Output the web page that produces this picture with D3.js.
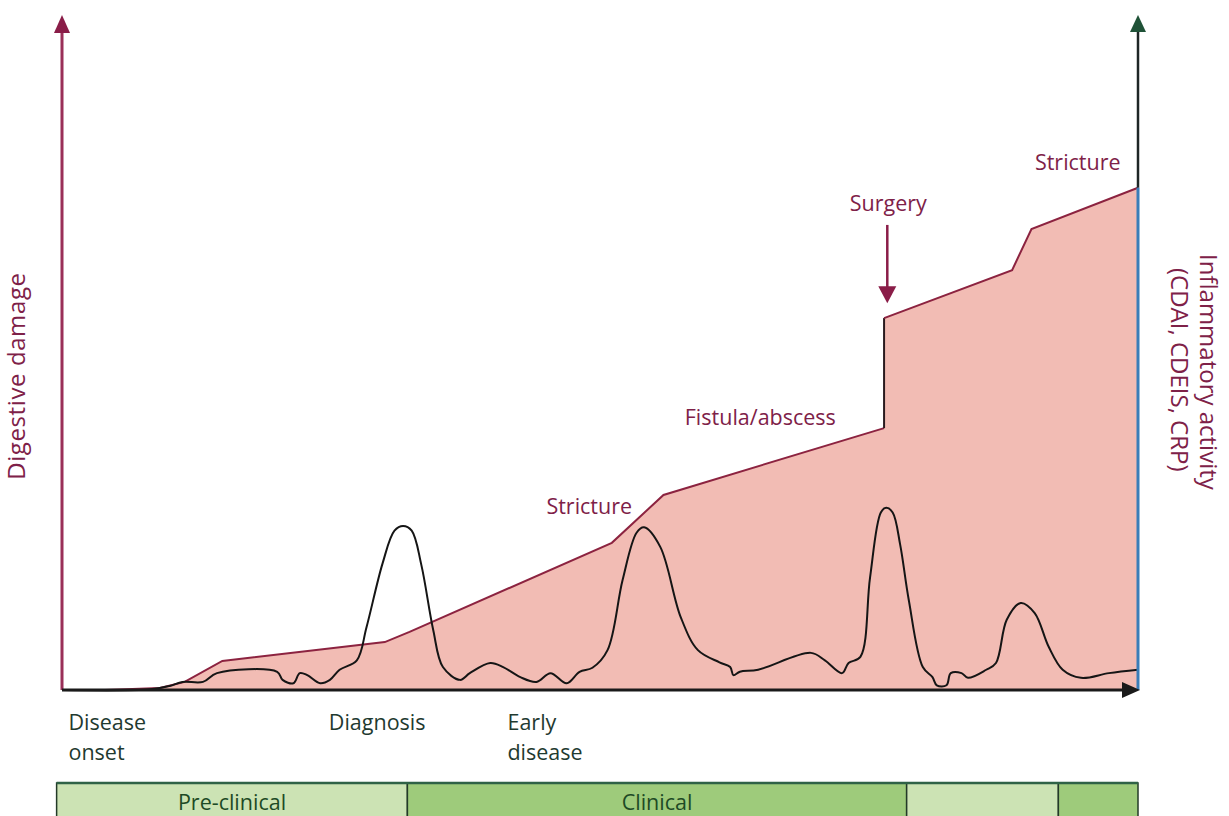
<!DOCTYPE html>
<html>
<head>
<meta charset="utf-8">
<script src="https://cdn.jsdelivr.net/npm/d3@7"></script>
<style>
  html, body { margin: 0; padding: 0; background: #ffffff; }
  svg { display: block; }
  text { font-family: "Open Sans", "DejaVu Sans", sans-serif; }
</style>
</head>
<body>
<svg id="chart" width="1229" height="816"></svg>
<script>
// ---------------- DATA ----------------
// Time axis: 0 = disease onset, 100 = end of observed course (arbitrary units)
// Digestive damage (cumulative), arbitrary units 0-100
const damageTime  = [0, 4.0, 9.1, 11.4, 14.9, 30.0, 32.3, 51.1, 55.9, 76.4, 76.4, 88.3, 90.1, 100];
const damageValue = [0, 0.0, 0.3, 1.2, 4.3, 7.1, 8.6, 21.8, 28.9, 38.8, 55.1, 62.2, 68.3, 74.4];

// Inflammatory activity (CDAI, CDEIS, CRP), arbitrary units 0-100
const activityTime  = [0, 8.2, 10.0, 11.2, 13.1, 14.4, 20.0, 20.5, 21.5, 22.1, 22.8, 24.0, 24.9, 25.8, 27.4, 28.3, 29.8, 30.9, 31.7, 32.5, 33.4, 34.5, 35.4, 37.0, 37.9, 39.8, 41.0, 42.6, 44.1, 45.4, 46.9, 48.1, 49.3, 50.7, 52.1, 53.4, 54.1, 55.6, 57.5, 59.1, 61.1, 62.1, 62.4, 63.0, 64.7, 69.6, 70.9, 72.5, 73.1, 74.2, 75.1, 76.1, 76.6, 77.2, 77.9, 78.7, 80.0, 80.9, 81.3, 82.2, 82.6, 83.6, 84.2, 85.9, 86.8, 87.8, 89.1, 90.4, 91.7, 93.0, 94.7, 97.3, 100];
const activityValue = [0, 0.1, 0.6, 1.2, 1.2, 2.5, 2.7, 1.5, 1.0, 2.5, 2.2, 1.0, 1.5, 3.0, 4.4, 9.3, 18.8, 23.6, 24.3, 23.6, 18.5, 8.9, 3.4, 1.5, 2.5, 4.0, 3.4, 1.9, 1.2, 2.5, 1.0, 2.7, 3.3, 5.9, 16.3, 23.3, 24.1, 21.2, 10.8, 5.9, 4.1, 3.4, 2.2, 2.7, 3.0, 5.5, 4.4, 2.5, 4.0, 4.9, 16.7, 26.3, 27.0, 26.3, 21.5, 13.3, 3.4, 1.9, 0.7, 0.7, 2.5, 2.5, 1.8, 3.0, 4.0, 10.4, 12.9, 11.4, 6.4, 3.0, 1.8, 2.5, 3.0];

// Events on the damage curve
const eventLabels = ["Stricture", "Fistula/abscess", "Surgery", "Stricture"];
const eventTime   = [49.0, 64.9, 76.8, 94.4];
const eventValue  = [26.1, 39.3, 71.0, 77.0];
// Surgery arrow (time, from value, to value)
const surgeryArrow = [76.7, 68.9, 57.3];

// Milestones under the time axis
const milestoneLines = [["Disease", "onset"], ["Diagnosis"], ["Early", "disease"]];
const milestoneTime  = [0.6, 24.8, 41.4];

// Phase bar
const phaseLabels = ["Pre-clinical", "Clinical", "", ""];
const phaseStart  = [-0.5, 32.1, 78.5, 92.6];
const phaseEnd    = [32.1, 78.5, 92.6, 100];
const phaseShade  = ["light", "dark", "light", "dark"];

// Axis titles
const leftTitle  = "Digestive damage";
const rightTitle = ["Inflammatory activity", "(CDAI, CDEIS, CRP)"];

// ---------------- DRAWING ----------------
const svg = d3.select("#chart");
const x = d3.scaleLinear().domain([0, 100]).range([62, 1138]);
const y = d3.scaleLinear().domain([0, 100]).range([690, 15]);

const maroon = "#7e2148";
const maroonAxis = "#9a2f58";
const labelGreen = "#1f3a30";

// damage area
const damagePts = damageTime.map((t, i) => [t, damageValue[i]]);
const area = d3.area().x(d => x(d[0])).y0(y(0)).y1(d => y(d[1]));
svg.append("path").datum(damagePts)
  .attr("d", area).attr("fill", "#f2bcb4");
const topLine = d3.line().x(d => x(d[0])).y(d => y(d[1]));
svg.append("path").datum(damagePts.slice(0, 10))
  .attr("d", topLine).attr("fill", "none").attr("stroke", "#8c2340").attr("stroke-width", 2);
svg.append("path").datum(damagePts.slice(9, 11))
  .attr("d", topLine).attr("fill", "none").attr("stroke", "#2a1a1e").attr("stroke-width", 2);
svg.append("path").datum(damagePts.slice(10))
  .attr("d", topLine).attr("fill", "none").attr("stroke", "#8c2340").attr("stroke-width", 2);

// activity line
const actPts = activityTime.map((t, i) => [t, activityValue[i]]);
svg.append("path").datum(actPts)
  .attr("d", d3.line().x(d => x(d[0])).y(d => y(d[1])).curve(d3.curveCatmullRom.alpha(0.5)))
  .attr("fill", "none").attr("stroke", "#151515").attr("stroke-width", 2)
  .attr("stroke-linejoin", "round");

// left axis (digestive damage)
svg.append("line")
  .attr("x1", x(0)).attr("x2", x(0)).attr("y1", y(0)).attr("y2", y(98))
  .attr("stroke", maroonAxis).attr("stroke-width", 3);
svg.append("path")
  .attr("d", `M${x(0)},${y(100)} L${x(0) - 8},${y(100) + 18} L${x(0) + 8},${y(100) + 18} Z`)
  .attr("fill", "#8a1d48");

// right axis (inflammatory activity)
const lastDamage = damageValue[damageValue.length - 1];
svg.append("line")
  .attr("x1", x(100)).attr("x2", x(100)).attr("y1", y(lastDamage)).attr("y2", y(98))
  .attr("stroke", "#1e2626").attr("stroke-width", 2.5);
svg.append("line")
  .attr("x1", x(100)).attr("x2", x(100)).attr("y1", y(0)).attr("y2", y(lastDamage))
  .attr("stroke", "#3a7db8").attr("stroke-width", 3);
svg.append("path")
  .attr("d", `M${x(100)},${y(100)} L${x(100) - 8},${y(100) + 17} L${x(100) + 8},${y(100) + 17} Z`)
  .attr("fill", "#1f5237");

// time axis
svg.append("line")
  .attr("x1", x(0)).attr("x2", x(98.8)).attr("y1", y(0)).attr("y2", y(0))
  .attr("stroke", "#1a1a1a").attr("stroke-width", 3);
svg.append("path")
  .attr("d", `M${x(100) + 2},${y(0)} L${x(100) - 16},${y(0) - 8} L${x(100) - 16},${y(0) + 8} Z`)
  .attr("fill", "#1a1a1a");

// event labels
svg.selectAll("text.event").data(eventLabels).enter().append("text")
  .attr("class", "event")
  .attr("x", (d, i) => x(eventTime[i])).attr("y", (d, i) => y(eventValue[i]))
  .attr("text-anchor", "middle").attr("font-size", 21.5).attr("fill", maroon)
  .text(d => d);

// surgery arrow
svg.append("line")
  .attr("x1", x(surgeryArrow[0])).attr("x2", x(surgeryArrow[0]))
  .attr("y1", y(surgeryArrow[1])).attr("y2", y(surgeryArrow[2]) - 14)
  .attr("stroke", "#8a1d48").attr("stroke-width", 2.5);
svg.append("path")
  .attr("d", `M${x(surgeryArrow[0])},${y(surgeryArrow[2])} L${x(surgeryArrow[0]) - 9},${y(surgeryArrow[2]) - 17} L${x(surgeryArrow[0]) + 9},${y(surgeryArrow[2]) - 17} Z`)
  .attr("fill", "#8a1d48");

// milestones
milestoneLines.forEach((lines, i) => {
  const t = svg.append("text")
    .attr("x", x(milestoneTime[i])).attr("y", 730)
    .attr("font-size", 21.5).attr("fill", labelGreen);
  lines.forEach((ln, j) => {
    t.append("tspan").attr("x", x(milestoneTime[i])).attr("dy", j === 0 ? 0 : 30).text(ln);
  });
});

// axis titles
svg.append("text")
  .attr("transform", `translate(25,${y(46.5)}) rotate(-90)`)
  .attr("text-anchor", "middle").attr("font-size", 24).attr("fill", maroon)
  .attr("letter-spacing", 0.6)
  .text(leftTitle);
rightTitle.forEach((s, i) => {
  svg.append("text")
    .attr("transform", `translate(${1200 - i * 29},${i === 0 ? 254 : 268}) rotate(90)`)
    .attr("text-anchor", "start").attr("font-size", 24).attr("fill", maroon)
    .text(s);
});

// phase bar
const barTop = 783, barH = 40;
const g = svg.append("g");
g.selectAll("rect.phase").data(phaseLabels).enter().append("rect")
  .attr("class", "phase")
  .attr("x", (d, i) => x(phaseStart[i])).attr("y", barTop)
  .attr("width", (d, i) => x(phaseEnd[i]) - x(phaseStart[i])).attr("height", barH)
  .attr("fill", (d, i) => phaseShade[i] === "light" ? "#cce3b4" : "#9ecb7b")
  .attr("stroke", "#233a28").attr("stroke-width", 1.5);
g.append("line")
  .attr("x1", x(phaseStart[0])).attr("x2", x(100)).attr("y1", barTop).attr("y2", barTop)
  .attr("stroke", "#2f6246").attr("stroke-width", 2.5);
g.selectAll("text.phase").data(phaseLabels).enter().append("text")
  .attr("class", "phase")
  .attr("x", (d, i) => (x(phaseStart[i]) + x(phaseEnd[i])) / 2).attr("y", 810)
  .attr("text-anchor", "middle").attr("font-size", 21.5).attr("fill", "#1d4a25")
  .text(d => d);
</script>
</body>
</html>
